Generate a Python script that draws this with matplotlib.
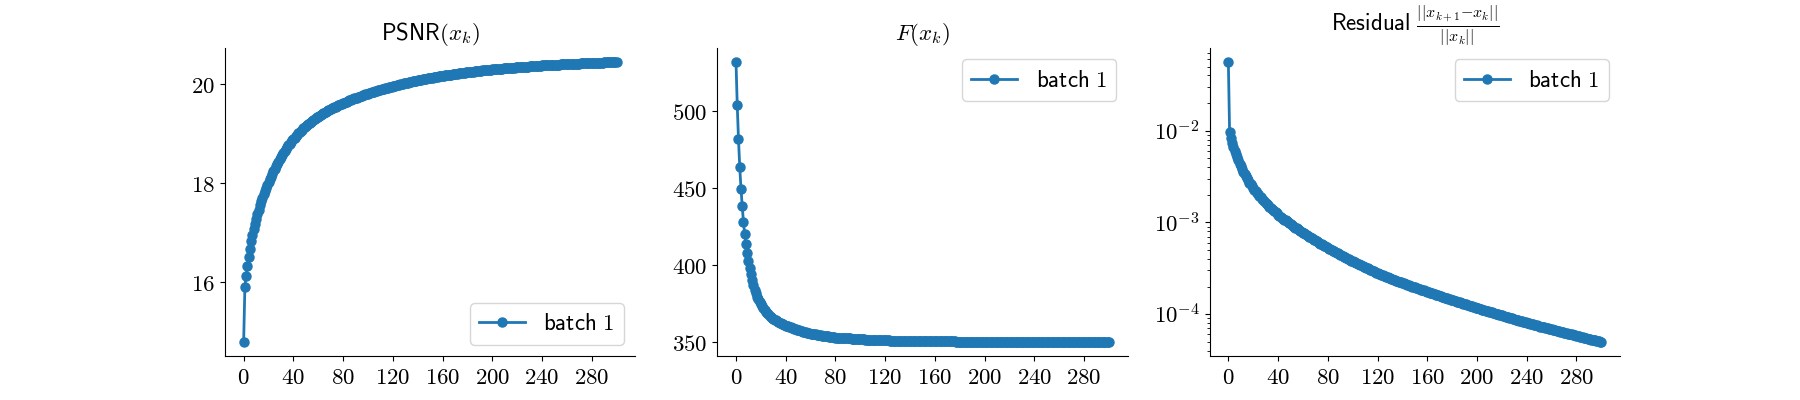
import numpy as np
import matplotlib
matplotlib.use("Agg")
import matplotlib.pyplot as plt
from matplotlib.ticker import MultipleLocator, FuncFormatter, NullFormatter

plt.rcParams['mathtext.fontset'] = 'cm'
plt.rcParams['font.size'] = 16.5
plt.rcParams['axes.titlesize'] = 16.5
plt.rcParams['legend.fontsize'] = 16.5

# iteration index
iters = list(range(301))

# PSNR(x_k)
psnr = [
    14.79, 15.91, 16.13, 16.33, 16.50, 16.67, 16.82, 16.95, 17.07, 17.18,
    17.28, 17.37, 17.46, 17.55, 17.63, 17.70, 17.77, 17.84, 17.90, 17.96,
    18.02, 18.08, 18.13, 18.19, 18.24, 18.29, 18.34, 18.39, 18.43, 18.48,
    18.52, 18.56, 18.60, 18.64, 18.68, 18.72, 18.76, 18.79, 18.83, 18.86,
    18.890, 18.920, 18.948, 18.976, 19.003, 19.030, 19.055, 19.080, 19.104, 19.127,
    19.150, 19.171, 19.192, 19.213, 19.233, 19.252, 19.271, 19.290, 19.308, 19.325,
    19.342, 19.359, 19.375, 19.391, 19.407, 19.422, 19.437, 19.452, 19.466, 19.480,
    19.493, 19.507, 19.520, 19.532, 19.545, 19.557, 19.569, 19.581, 19.592, 19.604,
    19.615, 19.626, 19.637, 19.647, 19.658, 19.668, 19.678, 19.688, 19.698, 19.708,
    19.717, 19.727, 19.736, 19.745, 19.754, 19.763, 19.772, 19.781, 19.789, 19.798,
    19.806, 19.814, 19.823, 19.831, 19.839, 19.847, 19.855, 19.862, 19.870, 19.878,
    19.885, 19.892, 19.900, 19.907, 19.914, 19.921, 19.928, 19.935, 19.942, 19.948,
    19.955, 19.962, 19.968, 19.975, 19.981, 19.987, 19.994, 20.000, 20.006, 20.012,
    20.018, 20.024, 20.030, 20.035, 20.041, 20.046, 20.052, 20.057, 20.063, 20.068,
    20.073, 20.078, 20.083, 20.088, 20.093, 20.098, 20.103, 20.108, 20.113, 20.117,
    20.122, 20.127, 20.131, 20.136, 20.140, 20.144, 20.148, 20.153, 20.157, 20.161,
    20.165, 20.169, 20.173, 20.177, 20.180, 20.184, 20.188, 20.192, 20.195, 20.199,
    20.203, 20.206, 20.210, 20.213, 20.217, 20.220, 20.224, 20.227, 20.231, 20.234,
    20.238, 20.241, 20.244, 20.247, 20.250, 20.253, 20.256, 20.259, 20.262, 20.265,
    20.268, 20.271, 20.274, 20.277, 20.279, 20.282, 20.285, 20.288, 20.290, 20.293,
    20.296, 20.298, 20.300, 20.303, 20.305, 20.307, 20.309, 20.311, 20.313, 20.315,
    20.317, 20.319, 20.321, 20.323, 20.325, 20.327, 20.329, 20.331, 20.333, 20.335,
    20.337, 20.339, 20.341, 20.343, 20.345, 20.347, 20.349, 20.351, 20.352, 20.354,
    20.356, 20.358, 20.360, 20.362, 20.364, 20.366, 20.368, 20.370, 20.371, 20.373,
    20.375, 20.376, 20.378, 20.379, 20.380, 20.382, 20.383, 20.384, 20.386, 20.387,
    20.388, 20.389, 20.391, 20.392, 20.393, 20.395, 20.396, 20.397, 20.399, 20.400,
    20.401, 20.402, 20.404, 20.405, 20.406, 20.407, 20.409, 20.410, 20.411, 20.412,
    20.414, 20.415, 20.416, 20.417, 20.418, 20.420, 20.421, 20.422, 20.423, 20.424,
    20.425, 20.426, 20.427, 20.428, 20.429, 20.430, 20.431, 20.432, 20.433, 20.434,
    20.435, 20.436, 20.437, 20.438, 20.439, 20.440, 20.441, 20.442, 20.443, 20.444,
    20.445,
]

# objective F(x_k), middle panel
fval = [
    531.5, 503.3, 481.4, 463.5, 449.4, 437.9, 427.7, 419.7, 413.2, 407.5,
    402.3, 397.8, 393.7, 390.0, 386.6, 383.5, 381.3, 379.3, 377.6, 376.0,
    374.5, 373.1, 371.8, 370.6, 369.5, 368.5, 367.7, 366.9, 366.2, 365.5,
    364.8, 364.3, 363.8, 363.3, 362.9, 362.4, 362.0, 361.6, 361.2, 360.9,
    360.5, 360.2, 359.9, 359.6, 359.3, 359.0, 358.7, 358.4, 358.1, 357.8,
    357.5, 357.3, 357.0, 356.8, 356.6, 356.4, 356.1, 355.9, 355.7, 355.5,
    355.3, 355.1, 355.0, 354.8, 354.7, 354.5, 354.4, 354.2, 354.1, 353.9,
    353.8, 353.7, 353.6, 353.5, 353.4, 353.2, 353.1, 353.0, 352.9, 352.8,
    352.7, 352.6, 352.6, 352.5, 352.5, 352.4, 352.4, 352.3, 352.3, 352.2,
    352.2, 352.1, 352.1, 352.0, 352.0, 351.9, 351.9, 351.8, 351.8, 351.7,
    351.6, 351.6, 351.5, 351.5, 351.4, 351.4, 351.4, 351.3, 351.3, 351.2,
    351.2, 351.2, 351.1, 351.1, 351.1, 351.0, 351.0, 351.0, 350.9, 350.9,
    350.9, 350.8, 350.8, 350.8, 350.7, 350.7, 350.6, 350.6, 350.6, 350.6,
    350.6, 350.6, 350.6, 350.6, 350.6, 350.6, 350.5, 350.5, 350.5, 350.5,
    350.5, 350.5, 350.5, 350.5, 350.5, 350.5, 350.4, 350.4, 350.4, 350.4,
    350.4, 350.4, 350.4, 350.4, 350.4, 350.4, 350.3, 350.3, 350.3, 350.3,
    350.3, 350.3, 350.3, 350.3, 350.3, 350.3, 350.2, 350.2, 350.2, 350.2,
    350.2, 350.2, 350.2, 350.2, 350.2, 350.2, 350.2, 350.0, 350.0, 350.0,
    350.0, 350.0, 350.0, 350.0, 350.0, 350.0, 350.0, 350.0, 350.0, 350.0,
    350.0, 349.9, 349.9, 349.9, 349.9, 349.9, 349.9, 349.9, 349.9, 349.9,
    349.9, 349.9, 349.9, 349.9, 349.9, 349.9, 349.9, 349.9, 349.9, 349.9,
    349.9, 349.9, 349.9, 349.9, 349.9, 349.9, 349.9, 349.9, 349.9, 349.9,
    349.9, 349.9, 349.9, 349.9, 349.9, 349.9, 349.9, 349.9, 349.9, 349.9,
    349.9, 349.8, 349.8, 349.8, 349.8, 349.8, 349.8, 349.8, 349.8, 349.8,
    349.8, 349.8, 349.8, 349.8, 349.8, 349.8, 349.8, 349.8, 349.8, 349.8,
    349.8, 349.8, 349.8, 349.8, 349.8, 349.8, 349.8, 349.8, 349.8, 349.8,
    349.8, 349.8, 349.8, 349.8, 349.8, 349.8, 349.8, 349.8, 349.8, 349.8,
    349.8, 349.8, 349.8, 349.8, 349.8, 349.8, 349.8, 349.8, 349.8, 349.8,
    349.8, 349.8, 349.8, 349.8, 349.8, 349.8, 349.8, 349.8, 349.8, 349.8,
    349.8, 349.8, 349.8, 349.8, 349.8, 349.8, 349.8, 349.8, 349.8, 349.8,
    349.8,
]

# log10 of relative residual ||x_{k+1}-x_k|| / ||x_k||
log_resid = [
    -1.251, -2.018, -2.078, -2.130, -2.176, -2.218, -2.256, -2.291, -2.325, -2.358,
    -2.389, -2.418, -2.445, -2.471, -2.496, -2.520, -2.543, -2.565, -2.586, -2.606,
    -2.625, -2.643, -2.661, -2.678, -2.695, -2.711, -2.727, -2.742, -2.757, -2.772,
    -2.786, -2.800, -2.814, -2.827, -2.840, -2.853, -2.866, -2.878, -2.890, -2.902,
    -2.914, -2.925, -2.936, -2.947, -2.958, -2.969, -2.979, -2.989, -2.999, -3.009,
    -3.019, -3.029, -3.039, -3.048, -3.057, -3.066, -3.075, -3.084, -3.093, -3.102,
    -3.111, -3.120, -3.129, -3.138, -3.147, -3.155, -3.164, -3.172, -3.181, -3.189,
    -3.197, -3.206, -3.214, -3.222, -3.230, -3.238, -3.246, -3.254, -3.262, -3.270,
    -3.278, -3.285, -3.293, -3.300, -3.308, -3.315, -3.322, -3.330, -3.337, -3.344,
    -3.352, -3.359, -3.366, -3.373, -3.381, -3.388, -3.395, -3.402, -3.409, -3.416,
    -3.423, -3.430, -3.436, -3.443, -3.449, -3.456, -3.463, -3.469, -3.476, -3.482,
    -3.489, -3.495, -3.502, -3.508, -3.515, -3.521, -3.528, -3.534, -3.541, -3.547,
    -3.554, -3.559, -3.565, -3.570, -3.576, -3.581, -3.587, -3.592, -3.598, -3.603,
    -3.609, -3.614, -3.619, -3.624, -3.630, -3.635, -3.640, -3.645, -3.650, -3.655,
    -3.660, -3.665, -3.670, -3.675, -3.680, -3.685, -3.690, -3.694, -3.699, -3.704,
    -3.709, -3.714, -3.718, -3.723, -3.728, -3.733, -3.737, -3.742, -3.747, -3.751,
    -3.756, -3.760, -3.765, -3.769, -3.774, -3.778, -3.783, -3.787, -3.792, -3.796,
    -3.801, -3.805, -3.810, -3.814, -3.819, -3.823, -3.828, -3.832, -3.837, -3.841,
    -3.846, -3.850, -3.855, -3.859, -3.864, -3.868, -3.872, -3.877, -3.881, -3.885,
    -3.890, -3.894, -3.898, -3.903, -3.907, -3.911, -3.916, -3.920, -3.924, -3.929,
    -3.933, -3.937, -3.941, -3.945, -3.950, -3.954, -3.958, -3.962, -3.966, -3.970,
    -3.974, -3.978, -3.982, -3.986, -3.991, -3.995, -3.999, -4.003, -4.007, -4.011,
    -4.015, -4.019, -4.023, -4.027, -4.031, -4.035, -4.039, -4.043, -4.047, -4.051,
    -4.055, -4.059, -4.063, -4.067, -4.071, -4.075, -4.079, -4.083, -4.087, -4.091,
    -4.095, -4.099, -4.102, -4.106, -4.109, -4.113, -4.117, -4.120, -4.124, -4.127,
    -4.131, -4.135, -4.138, -4.142, -4.145, -4.149, -4.152, -4.156, -4.159, -4.163,
    -4.166, -4.170, -4.173, -4.177, -4.180, -4.184, -4.187, -4.191, -4.194, -4.198,
    -4.201, -4.205, -4.208, -4.212, -4.215, -4.219, -4.222, -4.226, -4.229, -4.233,
    -4.236, -4.239, -4.243, -4.246, -4.250, -4.253, -4.256, -4.260, -4.263, -4.266,
    -4.270, -4.273, -4.277, -4.280, -4.283, -4.287, -4.290, -4.293, -4.297, -4.300,
    -4.304,
]
resid = 10.0 ** np.array(log_resid)

titles = [r'$\mathsf{PSNR}(x_k)$', r'$F(x_k)$',
          r'$\mathsf{Residual}\ \frac{||x_{k+1}{-}x_k||}{||x_k||}$']
label = r'$\mathsf{batch\ 1}$'

num_fmt = FuncFormatter(lambda v, p: r'$%g$' % v)
log_fmt = FuncFormatter(lambda v, p: r'$10^{%d}$' % round(np.log10(v)))

fig, axs = plt.subplots(1, 3, figsize=(18, 4), dpi=100)

style = dict(marker='o', color='#1f77b4', lw=2, ms=6.5, label=label)

axs[0].plot(iters, psnr, **style)
axs[0].legend(loc='lower right')
axs[0].yaxis.set_major_locator(MultipleLocator(2))

axs[1].plot(iters, fval, **style)
axs[1].legend(loc='upper right')
axs[1].yaxis.set_major_locator(MultipleLocator(50))

axs[2].plot(iters, resid, **style)
axs[2].set_yscale('log')
axs[2].legend(loc='upper right')

for i, ax in enumerate(axs):
    ax.set_title(titles[i])
    ax.spines['top'].set_visible(False)
    ax.spines['right'].set_visible(False)
    ax.xaxis.set_major_locator(MultipleLocator(40))
    ax.xaxis.set_major_formatter(num_fmt)
    if i < 2:
        ax.yaxis.set_major_formatter(num_fmt)
    else:
        ax.yaxis.set_major_formatter(log_fmt)
        ax.yaxis.set_minor_formatter(NullFormatter())

fig.savefig('out.png')
